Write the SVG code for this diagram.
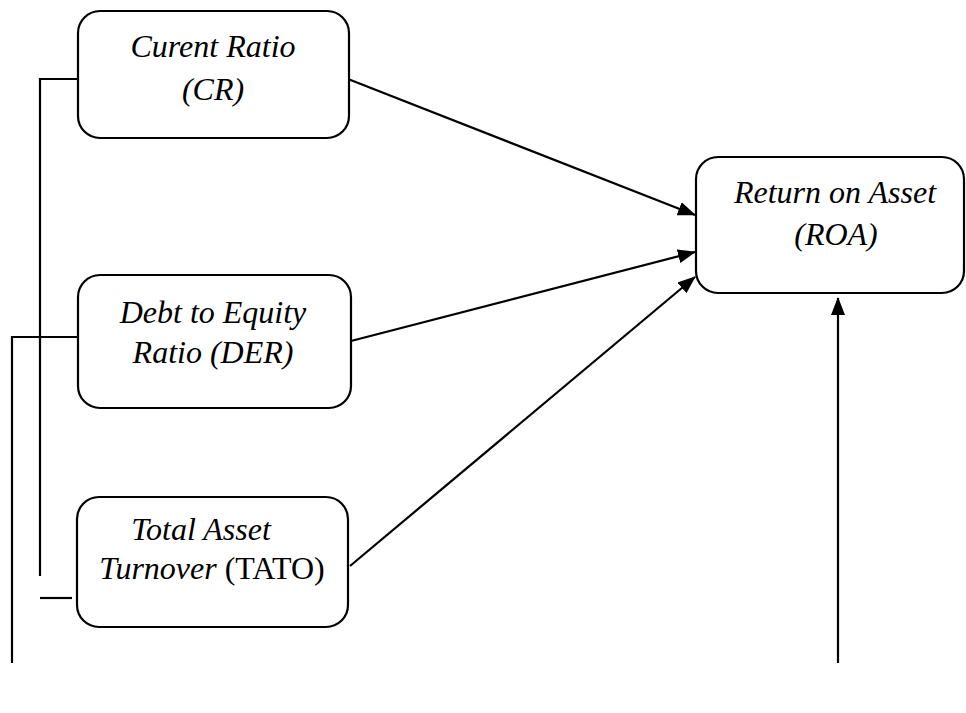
<svg xmlns="http://www.w3.org/2000/svg" width="966" height="713" viewBox="0 0 966 713">
  <defs>
    <marker id="arrow" markerWidth="18" markerHeight="14" refX="17" refY="7" orient="auto" markerUnits="userSpaceOnUse">
      <path d="M0,0 L18,7 L0,14 Z" fill="#000"/>
    </marker>
    <style>
      .box { fill: #fff; stroke: #000; stroke-width: 2.2; }
      .lbl { font-family: "Liberation Serif", "Times New Roman", serif; font-size: 32px; fill: #000; text-anchor: middle; }
      .it { font-style: italic; }
      .wire { fill: none; stroke: #000; stroke-width: 2.2; }
    </style>
  </defs>
  <rect width="966" height="713" fill="#fff"/>

  <g id="connectors">
    <!-- left-side lines -->
    <path class="wire" d="M78,79 H40 V576"/>
    <path class="wire" d="M78,337 H12 V663"/>
    <path class="wire" d="M40,598 H72"/>
    <!-- arrows into ROA -->
    <line class="wire" x1="348" y1="79" x2="695" y2="215" marker-end="url(#arrow)"/>
    <line class="wire" x1="351" y1="341" x2="695" y2="252" marker-end="url(#arrow)"/>
    <line class="wire" x1="350" y1="566" x2="695" y2="277" marker-end="url(#arrow)"/>
    <line class="wire" x1="838" y1="663" x2="838" y2="298" marker-end="url(#arrow)"/>
  </g>

  <g id="cr">
    <rect class="box" x="78" y="11" width="271" height="127" rx="22"/>
    <text class="lbl it" x="213" y="57">Curent Ratio</text>
    <text class="lbl it" x="213" y="100">(CR)</text>
  </g>

  <g id="der">
    <rect class="box" x="78" y="275" width="273" height="133" rx="22"/>
    <text class="lbl it" x="213" y="323">Debt to Equity</text>
    <text class="lbl it" x="213" y="363">Ratio (DER)</text>
  </g>

  <g id="tato">
    <rect class="box" x="77" y="497" width="271" height="130" rx="22"/>
    <text class="lbl it" x="201" y="540">Total Asset</text>
    <text class="lbl" x="212" y="579"><tspan class="it">Turnover</tspan> (TATO)</text>
  </g>

  <g id="roa">
    <rect class="box" x="696" y="157" width="268" height="136" rx="22"/>
    <text class="lbl it" x="835" y="203">Return on Asset</text>
    <text class="lbl it" x="836" y="245">(ROA)</text>
  </g>
</svg>
